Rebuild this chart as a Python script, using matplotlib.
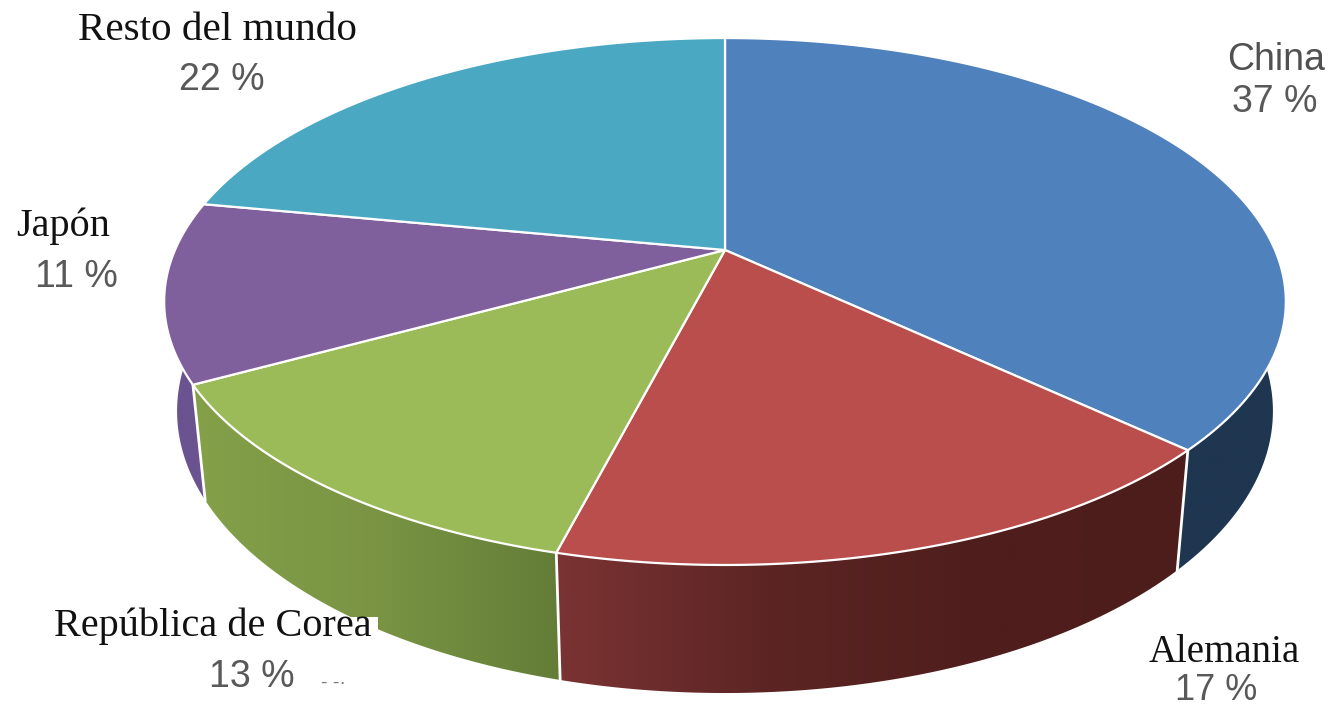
import numpy as np
import matplotlib
matplotlib.use('Agg')
import matplotlib.pyplot as plt
from matplotlib.patches import Polygon, Rectangle
from matplotlib.colors import LinearSegmentedColormap

nombres = ['China', 'Alemania', 'República de Corea', 'Japón', 'Resto del mundo']
valores = [37, 17, 13, 11, 22]
colores = ['#4f81bd', '#ba4e4c', '#9bbb59', '#7f609c', '#4aa8c3']
etiquetas = ['37 %', '17 %', '13 %', '11 %', '22 %']

# centro de la tarta y perspectiva (en pixeles de la imagen)
cx, cy = 725, 250
a, b, c = 253.4, 0.1955, 550
esc_x, esc_y, prof = 0.977, 1.07, 106


def borde(t):
    # t en grados, desde arriba en sentido horario
    r = np.radians(t)
    den = 1 + b * np.cos(r)
    return c * np.sin(r) / den, -a * np.cos(r) / den


def tapa(t):
    x, y = borde(t)
    return cx + x, cy + y


def abajo(t):
    x, y = borde(t)
    return cx + esc_x * x, cy + prof + esc_y * y


fig = plt.figure(figsize=(13.31, 7.08), dpi=100)
ax = fig.add_axes([0, 0, 1, 1])
ax.set_xlim(0, 1331)
ax.set_ylim(708, 0)
ax.axis('off')

acum = np.cumsum([0] + valores) / sum(valores) * 360

# paredes laterales
paredes = [
    (80, acum[1], ['#1f3650', '#1f3650']),
    (acum[1], acum[2], ['#7b3333', '#5c2524', '#4f1e1c', '#4d1d1c']),
    (acum[2], acum[3], ['#84a048', '#7a9444', '#637d38']),
    (acum[3], 285, ['#6a5390', '#6a5390']),
]
for t1, t2, cols in paredes:
    ts = np.linspace(t1, t2, 150)
    xa, ya = tapa(ts)
    xb, yb = abajo(ts)
    pts = np.vstack([np.column_stack([xa, ya]), np.column_stack([xb, yb])[::-1]])
    pol = Polygon(pts, closed=True, fc='none', ec='none')
    ax.add_patch(pol)
    cm = LinearSegmentedColormap.from_list('p', cols)
    x0, x1 = pts[:, 0].min(), pts[:, 0].max()
    im = ax.imshow(np.linspace(0, 1, 256).reshape(1, -1), cmap=cm, aspect='auto',
                   extent=(x0, x1, 708, 0), zorder=1)
    im.set_clip_path(pol)
ax.set_xlim(0, 1331)
ax.set_ylim(708, 0)

# separaciones blancas de las paredes
for t in acum[1:4]:
    xa, ya = tapa(t)
    xb, yb = abajo(t)
    ax.plot([xa, xb], [ya, yb], color='white', lw=2, zorder=2)

# cara superior
for i in range(len(valores)):
    ts = np.linspace(acum[i], acum[i + 1], 150)
    xa, ya = tapa(ts)
    pts = np.vstack([[cx, cy], np.column_stack([xa, ya])])
    ax.add_patch(Polygon(pts, closed=True, fc=colores[i], ec='white', lw=1.6,
                         joinstyle='round', zorder=3))

# recuadro blanco que tapa la etiqueta original
ax.add_patch(Rectangle((0, 617), 378, 91, fc='white', ec='none', zorder=4))

serif = 'Liberation Serif'
sans = 'Liberation Sans'
gris = '#595959'
negro = '#111111'
tx = dict(ha='center', va='center', zorder=5)

ax.text(1276, 60, nombres[0], family=sans, size=27, color='#505050', **tx)
ax.text(1275, 102, etiquetas[0], family=sans, size=27, color=gris, **tx)
ax.text(1224, 652, nombres[1], family=serif, size=28, color=negro, **tx)
ax.text(1216, 690, etiquetas[1], family=sans, size=26, color=gris, **tx)
ax.text(213, 626, nombres[2], family=serif, size=29, color=negro, **tx)
ax.text(252, 677, etiquetas[2], family=sans, size=27, color=gris, **tx)
ax.text(63, 226, nombres[3], family=serif, size=29, color=negro, **tx)
ax.text(76, 277, etiquetas[3], family=sans, size=27, color=gris, **tx)
ax.text(217, 31, nombres[4], family=serif, size=29.6, color=negro, **tx)
ax.text(222, 80, etiquetas[4], family=sans, size=27, color=gris, **tx)
ax.text(333, 683, '- -·', family=sans, size=14, color='#777777', **tx)

fig.savefig('out.png', dpi=100, facecolor='white')
